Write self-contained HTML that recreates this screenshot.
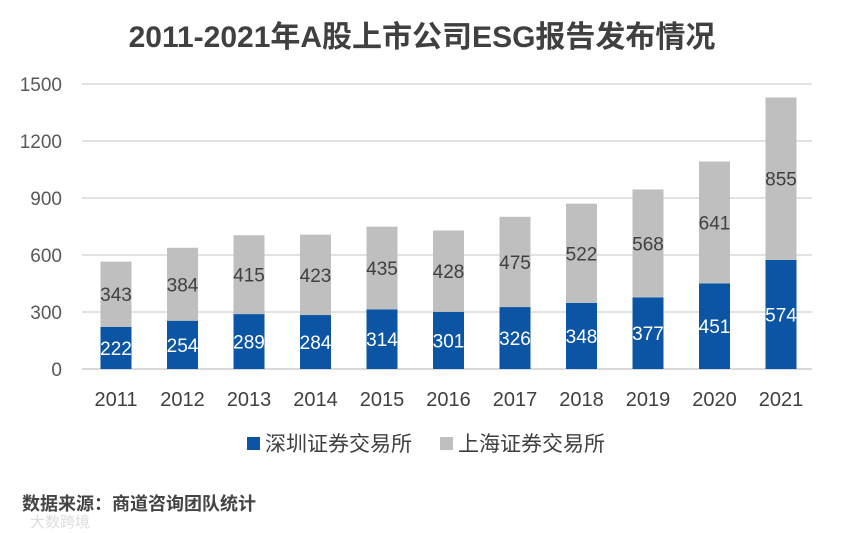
<!DOCTYPE html>
<html><head><meta charset="utf-8"><style>
body{margin:0;background:#fff;}
svg{display:block;font-family:"Liberation Sans","Noto Sans CJK SC",sans-serif;}
</style></head><body>
<svg id="c" width="846" height="533">
<text x="422" y="47" text-anchor="middle" font-size="30" font-weight="bold" fill="#404040">2011-2021年A股上市公司ESG报告发布情况</text>
<g id="grid"></g><g id="bars"></g>
<rect x="247" y="437" width="13" height="13" fill="#0b55a4"/>
<text x="265" y="451" font-size="21" fill="#404040">深圳证券交易所</text>
<rect x="440" y="437" width="13" height="13" fill="#bfbfbf"/>
<text x="458" y="451" font-size="21" fill="#404040">上海证券交易所</text>
<text x="22" y="510" font-size="18" font-weight="bold" fill="#444">数据来源：商道咨询团队统计</text>
<text x="30" y="527" font-size="15" fill="#ddd">大数跨境</text>
</svg>
<script>
const years=["2011","2012","2013","2014","2015","2016","2017","2018","2019","2020","2021"];
const shenzhen=[222,254,289,284,314,301,326,348,377,451,574];
const shanghai=[343,384,415,423,435,428,475,522,568,641,855];
const yTicks=[0,300,600,900,1200,1500];
const NS="http://www.w3.org/2000/svg";
const y=v=>369-v*0.19;
const x=i=>116+i*66.5;
function mk(t,a,p,txt){const e=document.createElementNS(NS,t);for(const k in a)e.setAttribute(k,a[k]);if(txt!==undefined)e.textContent=txt;p.appendChild(e);return e;}
const g=document.getElementById('grid'),b=document.getElementById('bars');
yTicks.forEach(v=>{
 const l=mk('line',{x1:82,x2:812,y1:y(v),y2:y(v),stroke:'#d9d9d9','stroke-width':v===0?2:1.5},g);
 
 
 const t=mk('text',{x:62,y:y(v)+7,'text-anchor':'end','font-size':19,fill:'#595959'},g,v);
 
 
});
years.forEach((yr,i)=>{
 const cx=x(i),w=31,s=shenzhen[i],h=shanghai[i];
 const r1=mk('rect',{x:cx-w/2,y:y(s),width:w,height:y(0)-y(s),fill:'#0b55a4'},b);
 
 
 const r2=mk('rect',{x:cx-w/2,y:y(s+h),width:w,height:y(s)-y(s+h),fill:'#bfbfbf'},b);
 
 
 const t1=mk('text',{x:cx,y:(y(0)+y(s))/2+7,'text-anchor':'middle','font-size':19,fill:'#fff'},b,s);
 
 
 const t2=mk('text',{x:cx,y:(y(s)+y(s+h))/2+7,'text-anchor':'middle','font-size':19,fill:'#404040'},b,h);
 
 
 const t3=mk('text',{x:cx,y:406,'text-anchor':'middle','font-size':20,fill:'#404040'},b,yr);
 
 
});
</script>
</body></html>
